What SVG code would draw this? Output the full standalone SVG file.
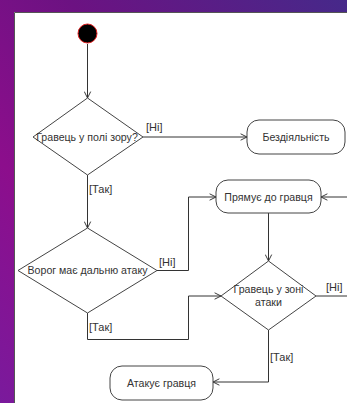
<svg xmlns="http://www.w3.org/2000/svg" width="347" height="403" viewBox="0 0 347 403">
  <defs>
    <linearGradient id="bg" x1="0" y1="1" x2="1" y2="0">
      <stop offset="0" stop-color="#7a1a9c"/>
      <stop offset="0.3" stop-color="#8c0e8c"/>
      <stop offset="0.6" stop-color="#6c1282"/>
      <stop offset="1" stop-color="#46298a"/>
    </linearGradient>
    <marker id="open" viewBox="0 0 10 10" refX="9" refY="5" markerWidth="8" markerHeight="8" markerUnits="userSpaceOnUse" orient="auto">
      <path d="M1,1 L9,5 L1,9" fill="none" stroke="#333" stroke-width="1.2"/>
    </marker>
    <style>
      .node { fill: #fff; stroke: #444; stroke-width: 1; }
      .txt { font-family: "Liberation Sans", Arial, sans-serif; font-size: 10.6px; fill: #333; text-anchor: middle; }
      .lbl { font-family: "Liberation Sans", Arial, sans-serif; font-size: 11px; fill: #333; }
      .edge { fill: none; stroke: #333; stroke-width: 1; }
    </style>
  </defs>

  <!-- page background and canvas -->
  <rect x="0" y="0" width="347" height="403" fill="url(#bg)"/>
  <rect x="14" y="12" width="340" height="400" fill="#fff"/>
  <path d="M14.5,403 L14.5,12.5 L347,12.5" fill="none" stroke="#555" stroke-width="1"/>

  <!-- connectors -->
  <g id="edges">
    <path class="edge" d="M87.5,44 L87.5,98" marker-end="url(#open)"/>
    <path class="edge" d="M143,137 L247,137" marker-end="url(#open)"/>
    <path class="edge" d="M87.5,175 L87.5,228" marker-end="url(#open)"/>
    <path class="edge" d="M157,270.5 L188.5,270.5 L188.5,197 L216,197" marker-end="url(#open)"/>
    <path class="edge" d="M347,197 L321,197" marker-end="url(#open)"/>
    <path class="edge" d="M268.5,213 L268.5,261" marker-end="url(#open)"/>
    <path class="edge" d="M87.5,313 L87.5,339.5 L188.5,339.5 L188.5,296 L221,296" marker-end="url(#open)"/>
    <path class="edge" d="M316,296 L347,296"/>
    <path class="edge" d="M268.5,330 L268.5,382 L213,382" marker-end="url(#open)"/>
    <text class="lbl" x="146" y="131">[Ні]</text>
    <text class="lbl" x="89" y="193">[Так]</text>
    <text class="lbl" x="159" y="266">[Ні]</text>
    <text class="lbl" x="89" y="331">[Так]</text>
    <text class="lbl" x="326" y="291">[Ні]</text>
    <text class="lbl" x="270" y="361">[Так]</text>
  </g>

  <!-- start -->
  <g id="start">
    <circle cx="87.5" cy="33.5" r="9.5" fill="#000" stroke="#e02020" stroke-width="1"/>
  </g>

  <!-- decisions -->
  <g id="d-view">
    <polygon class="node" points="87.5,98 143,137 87.5,175 33,137"/>
    <text class="txt" x="87" y="141">Гравець у полі зору?</text>
  </g>
  <g id="d-range">
    <polygon class="node" points="87.5,228 157,270.5 87.5,313 18,270.5"/>
    <text class="txt" x="87.5" y="274">Ворог має дальню атаку</text>
  </g>
  <g id="d-zone">
    <polygon class="node" points="268.5,261 316,296 268.5,330 221,296"/>
    <text class="txt" x="268.5" y="293">Гравець у зоні</text>
    <text class="txt" x="268.5" y="305.5">атаки</text>
  </g>

  <!-- actions -->
  <g id="a-idle">
    <rect class="node" x="247" y="120" width="98" height="34" rx="12"/>
    <text class="txt" x="296" y="140.5">Бездіяльність</text>
  </g>
  <g id="a-move">
    <rect class="node" x="216" y="180" width="105" height="33" rx="12"/>
    <text class="txt" x="268.5" y="200.5">Прямує до гравця</text>
  </g>
  <g id="a-attack">
    <rect class="node" x="110" y="366" width="103" height="34" rx="12"/>
    <text class="txt" x="161.5" y="386.5">Атакує гравця</text>
  </g>
</svg>
